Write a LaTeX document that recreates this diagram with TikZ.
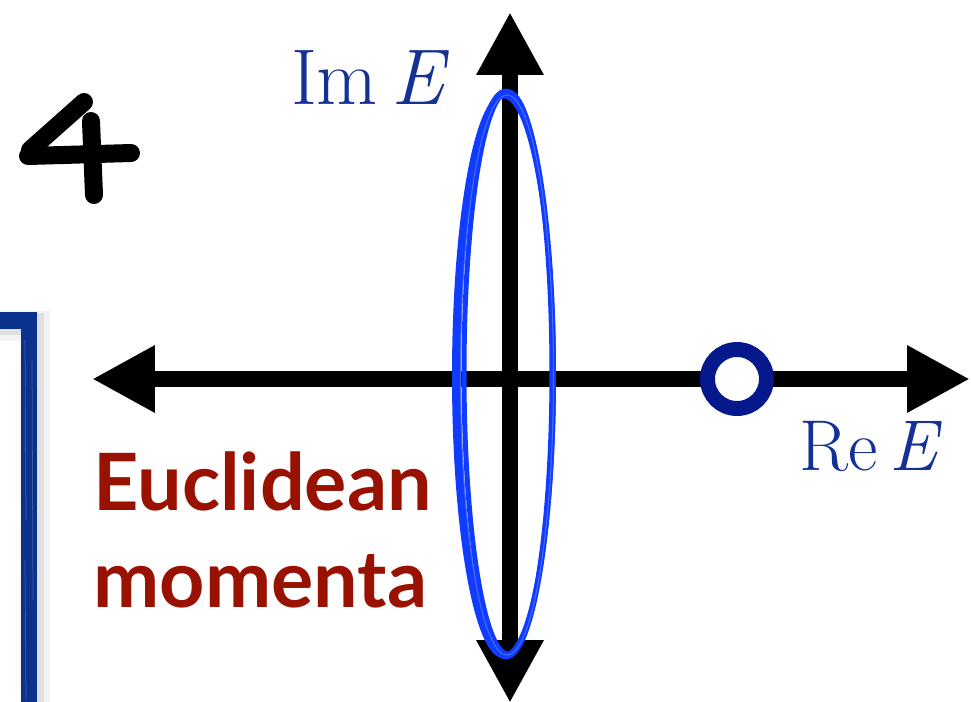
\documentclass[tikz,border=0pt]{standalone}
\usepackage{fontspec}
\usetikzlibrary{arrows.meta}
\newfontfamily\wordfont{Lato}
\definecolor{labelblue}{RGB}{20,50,150}
\definecolor{poleblue}{RGB}{5,25,140}
\definecolor{loopblue}{RGB}{15,60,255}
\definecolor{frameblue}{RGB}{10,50,140}
\definecolor{wordred}{RGB}{153,17,0}
\tikzset{bigtip/.tip={Triangle[length=1.26cm,width=1.26cm]}}
\begin{document}
\begin{tikzpicture}[x=0.02cm, y=-0.02cm,
    axis/.style={line width=0.32cm, bigtip-bigtip},
    loopstroke/.style={loopblue, line width=0.1cm},
    pole/.style={draw=poleblue, line width=0.3cm, fill=white},
    axislabel/.style={labelblue, font=\fontsize{41}{49}\selectfont, anchor=base, inner sep=0pt},
    bigword/.style={wordred, font=\wordfont\bfseries\fontsize{45}{54}\selectfont, anchor=base west, inner sep=0pt},
    brush/.style={line width=0.36cm, line cap=round, line join=round}]
\useasboundingbox (0,0) rectangle (971,701);

% piece of the frame on the left, with its shadow
\draw[line width=0.6cm, black!5] (-10,326) -- (35,326) -- (35,720);
\draw[line width=0.45cm, black!12] (-10,324) -- (33,324) -- (33,720);
\draw[frameblue, line width=0.34cm] (-10,320) -- (29,320) -- (29,720);
\draw[white, opacity=0.2, line width=0.015cm] (25,340) -- (26,520) (25,560) -- (26,700);
\draw[white, opacity=0.2, line width=0.015cm] (32,360) -- (33,600);

% the hand-written 4
\draw[brush] (84,102) -- (30,150);
\draw[brush] (28,156) -- (131,153);
\draw[brush] (91,121) -- (94,195);

% axes
\coordinate (west) at (92,379);
\coordinate (east) at (970,379);
\coordinate (north) at (510,12);
\coordinate (south) at (510,703);
\draw[axis] (west) -- (east);
\draw[axis] (north) -- (south);

% contour round the imaginary axis
\draw[loopstroke] (506,374) ellipse [x radius=0.95cm, y radius=5.66cm];
\draw[loopstroke] (508,373) ellipse [x radius=0.88cm, y radius=5.62cm];
\draw[loopstroke] (504,376) ellipse [x radius=0.99cm, y radius=5.6cm];
\draw[loopstroke, line width=0.02cm, white, opacity=0.25] (507,375) ellipse [x radius=0.93cm, y radius=5.6cm];

% the pole
\node[pole, circle, minimum size=1.18cm, inner sep=0pt] (pole) at (737,379) {};

% labels
\node[axislabel, font=\fontsize{45}{54}\selectfont] (imlabel) at (370,104) {Im\,\textit{E}};
\node[axislabel] (relabel) at (871,470) {Re\,\textit{E}};
\node[bigword] (euclid) at (93,510) {Euclidean};
\node[bigword] (moment) at (93,607) {momenta};
\end{tikzpicture}
\end{document}
